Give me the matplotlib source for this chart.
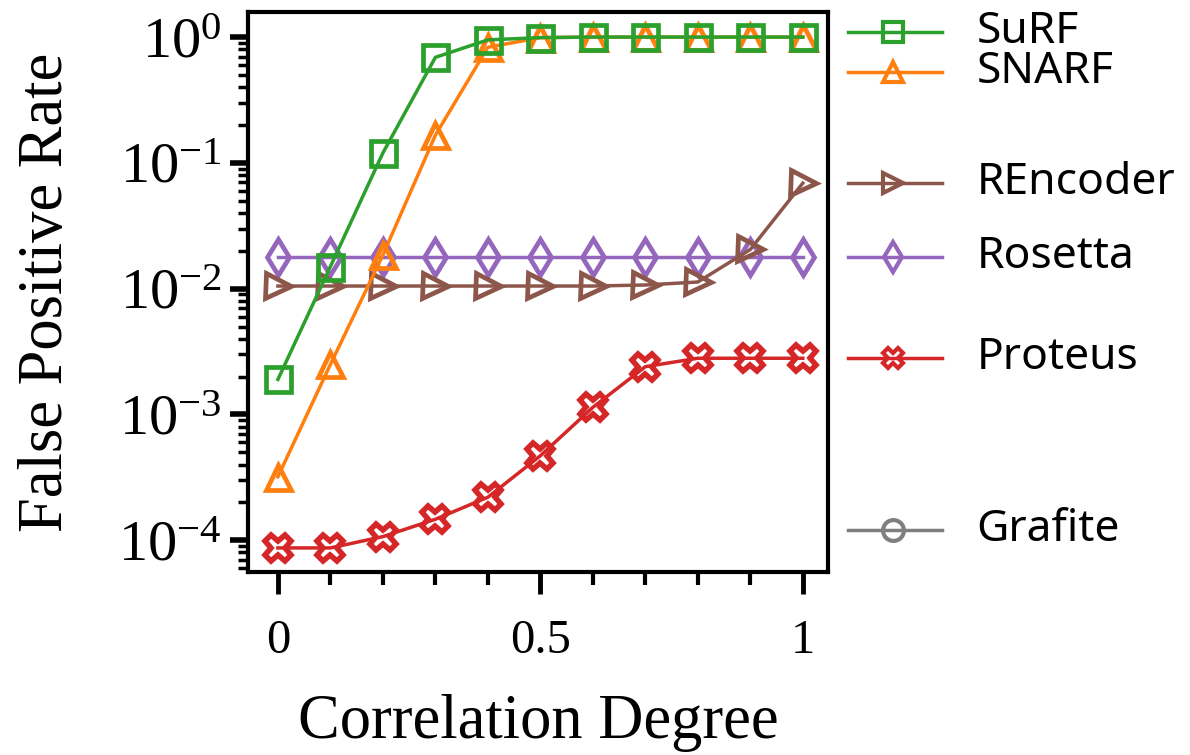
import numpy as np
import matplotlib
matplotlib.use("Agg")
import matplotlib.pyplot as plt
from matplotlib.ticker import LogLocator, NullFormatter, MultipleLocator

plt.rcParams["font.family"] = ["Liberation Serif", "DejaVu Serif"]
plt.rcParams["mathtext.fontset"] = "stix"

# correlation degree sweep
corr = [0.0, 0.1, 0.2, 0.3, 0.4, 0.5, 0.6, 0.7, 0.8, 0.9, 1.0]

# false positive rates per filter
surf_fpr = [1.9e-3, 1.5e-2, 0.12, 0.69, 0.95, 0.99, 1.0, 1.0, 1.0, 1.0, 1.0]
snarf_fpr = [3.2e-4, 2.5e-3, 1.85e-2, 0.166, 0.83, 0.99, 1.0, 1.0, 1.0, 1.0, 1.0]
rencoder_fpr = [1.05e-2, 1.05e-2, 1.05e-2, 1.05e-2, 1.05e-2, 1.05e-2, 1.05e-2,
                1.07e-2, 1.13e-2, 2.05e-2, 6.9e-2]
rosetta_fpr = [1.8e-2] * 11
proteus_fpr = [8.7e-5, 8.7e-5, 1.07e-4, 1.47e-4, 2.2e-4, 4.7e-4, 1.14e-3,
               2.4e-3, 2.8e-3, 2.8e-3, 2.8e-3]
grafite_fpr = []  # nothing measurable in range

names = ["SuRF", "SNARF", "REncoder", "Rosetta", "Proteus", "Grafite"]
series = [surf_fpr, snarf_fpr, rencoder_fpr, rosetta_fpr, proteus_fpr, grafite_fpr]
colors = ["#2ca02c", "#ff7f0e", "#8c564b", "#9467bd", "#d62728", "#7f7f7f"]
markers = ["s", "^", ">", "d", "X", "o"]
# heights of the side labels
key_y = [1.1, 0.53, 0.069, 0.0178, 0.0028, 1.2e-4]

fig = plt.figure(figsize=(11.9, 7.55), dpi=100)
ax = fig.add_axes([0.2084, 0.2424, 0.4874, 0.7416])

# draw back to front so SuRF sits on top
order = [3, 2, 4, 1, 0]
for i in order:
    big_x = markers[i] == "X"
    ax.plot(corr, series[i], color=colors[i], marker=markers[i], lw=2.5,
            ms=19 if big_x else 18, mew=4 if big_x else 3.4, fillstyle="none")

ax.set_yscale("log")
ax.set_ylim(5.6e-5, 1.58)
ax.set_xlim(-0.057, 1.048)
ax.set_xticks([0, 0.5, 1])
ax.set_xticklabels(["0", "0.5", "1"])
ax.xaxis.set_minor_locator(MultipleLocator(0.1))
ax.yaxis.set_major_locator(LogLocator(base=10, numticks=10))
ax.yaxis.set_minor_locator(LogLocator(base=10, subs=np.arange(2, 10), numticks=20))
ax.yaxis.set_minor_formatter(NullFormatter())
ax.tick_params(axis="y", which="major", length=13, width=4, labelsize=42, pad=6)
ax.tick_params(axis="y", which="minor", length=7.5, width=2.5)
ax.tick_params(axis="x", which="major", length=16, width=3.5, labelsize=35, pad=18)
ax.tick_params(axis="x", which="minor", length=9, width=3)
for s in ax.spines.values():
    s.set_linewidth(3)

ax.set_xlabel("Correlation Degree", fontsize=45, labelpad=22)
ax.set_ylabel("False Positive Rate", fontsize=45, labelpad=30)

# side key, aligned with the same log scale
kx = fig.add_axes([0.6958, 0.2424, 0.3042, 0.7416])
kx.set_yscale("log")
kx.set_ylim(ax.get_ylim())
kx.set_xlim(0, 1)
kx.axis("off")
for name, c, m, y in zip(names, colors, markers, key_y):
    kx.plot([0.055, 0.18, 0.315], [y, y, y], color=c, lw=2.5, marker=m,
            markevery=[1], ms=15, mew=3, fillstyle="none")
    kx.text(0.41, y, name, fontsize=32, va="center", ha="left",
            family=["Noto Sans", "DejaVu Sans"])

fig.savefig("out.png", dpi=100)
